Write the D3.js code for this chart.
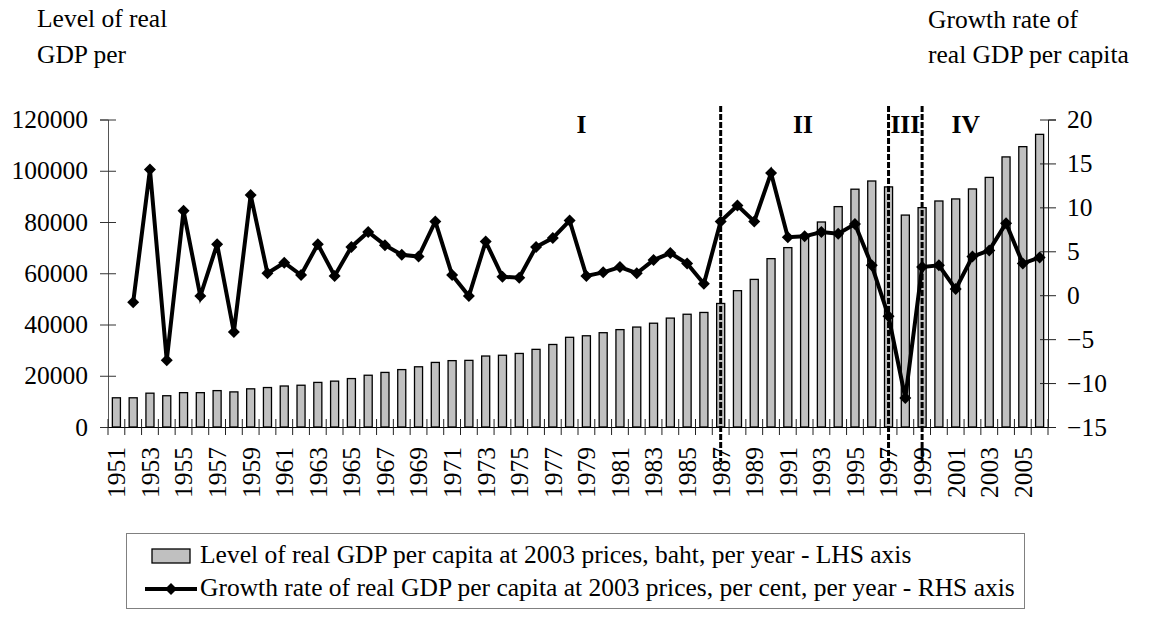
<!DOCTYPE html>
<html>
<head>
<meta charset="utf-8">
<script src="https://cdn.jsdelivr.net/npm/d3@7"></script>
<style>
  body { margin: 0; background: #fff; }
  svg text { font-family: "Liberation Serif", "Times New Roman", serif; font-size: 25.5px; fill: #000; }
</style>
</head>
<body>
<script>
var w = 1149, h = 619;

var years = [1951, 1952, 1953, 1954, 1955, 1956, 1957, 1958, 1959, 1960,
    1961, 1962, 1963, 1964, 1965, 1966, 1967, 1968, 1969, 1970,
    1971, 1972, 1973, 1974, 1975, 1976, 1977, 1978, 1979, 1980,
    1981, 1982, 1983, 1984, 1985, 1986, 1987, 1988, 1989, 1990,
    1991, 1992, 1993, 1994, 1995, 1996, 1997, 1998, 1999, 2000,
    2001, 2002, 2003, 2004, 2005, 2006];

// real GDP per capita, baht at 2003 prices (LHS)
var gdpLevel = [11400, 11400, 13200, 12200, 13400, 13400, 14200, 13700, 14900, 15400,
    16000, 16300, 17400, 17900, 18900, 20200, 21300, 22400, 23500, 25200,
    25900, 26000, 27700, 28000, 28700, 30300, 32200, 35000, 35600, 36800,
    38000, 39000, 40500, 42500, 44000, 44700, 48200, 53200, 57600, 65700,
    70000, 74800, 80000, 86000, 92800, 96000, 93700, 82700, 85600, 88200,
    89000, 92900, 97400, 105400, 109400, 114200];

// growth rate, per cent (RHS)
var growth = [null, -0.8, 14.3, -7.4, 9.6, -0.1, 5.8, -4.2, 11.4, 2.5,
    3.7, 2.3, 5.8, 2.2, 5.5, 7.2, 5.7, 4.6, 4.4, 8.4,
    2.3, -0.1, 6.1, 2.1, 2.0, 5.5, 6.5, 8.5, 2.2, 2.6,
    3.2, 2.5, 4.0, 4.8, 3.6, 1.3, 8.4, 10.2, 8.4, 13.9,
    6.6, 6.7, 7.2, 7.0, 8.1, 3.4, -2.4, -11.7, 3.2, 3.4,
    0.7, 4.4, 5.1, 8.2, 3.6, 4.3];

var leftTicks = [0, 20000, 40000, 60000, 80000, 100000, 120000];
var rightTicks = [-15, -10, -5, 0, 5, 10, 15, 20];
var yearLabels = years.filter(function (d) { return d % 2 === 1; });

var breakYears = [1987, 1997, 1999];
var periodLabels = ["I", "II", "III", "IV"];
var periodAt = [1978.7, 1991.9, 1998, 2001.6];

var legendNames = ["Level of real GDP per capita at 2003 prices, baht, per year - LHS axis",
    "Growth rate of real GDP per capita at 2003 prices, per cent, per year - RHS axis"];

var svg = d3.select('body').append('svg')
    .attr('width', w)
    .attr('height', h);

var x = d3.scaleBand().domain(years).range([108, 1048]);
var yL = d3.scaleLinear().domain([0, 120000]).range([427, 119.5]);
var yR = d3.scaleLinear().domain([-15, 20]).range([427, 119.5]);
var bw = x.bandwidth();
function cx(d) { return x(d) + bw / 2; }
function yearPos(v) { return x(years[0]) + (v - years[0]) * bw + bw / 2; }

// axis titles
svg.append('text').attr('x', 37).attr('y', 27).text('Level of real');
svg.append('text').attr('x', 37).attr('y', 63).text('GDP per');
svg.append('text').attr('x', 928).attr('y', 28).text('Growth rate of');
svg.append('text').attr('x', 928).attr('y', 63).text('real GDP per capita');

// bars
svg.selectAll('.bar')
    .data(years)
    .enter()
    .append('rect')
    .attr('class', 'bar')
    .attr('x', function (d) { return cx(d) - bw * 0.24; })
    .attr('width', bw * 0.48)
    .attr('y', function (d, i) { return yL(gdpLevel[i]); })
    .attr('height', function (d, i) { return yL(0) - yL(gdpLevel[i]); })
    .attr('fill', '#c0c0c0')
    .attr('stroke', '#000')
    .attr('stroke-width', 1.3);

// left axis
var gl = svg.append('g')
    .attr('transform', 'translate(108,0)')
    .call(d3.axisLeft(yL).tickValues(leftTicks).tickSize(8).tickPadding(12).tickFormat(d3.format('d')));
gl.select('.domain').attr('stroke', '#555');
gl.selectAll('.tick line').attr('x1', 8).attr('x2', -8).attr('stroke', '#333');
gl.selectAll('text').style('font-size', '25.5px').style('font-family', '"Liberation Serif", serif');

// right axis
var gr = svg.append('g')
    .attr('transform', 'translate(1048,0)')
    .call(d3.axisRight(yR).tickValues(rightTicks).tickSize(8).tickPadding(11));
gr.select('.domain').attr('stroke', '#222');
gr.selectAll('.tick line').attr('x1', -8).attr('x2', 8).attr('stroke', '#222');
gr.selectAll('text').style('font-size', '25.5px').style('font-family', '"Liberation Serif", serif');

// bottom axis, labels every other year
var gb = svg.append('g')
    .attr('transform', 'translate(0,427)')
    .call(d3.axisBottom(x).tickValues(yearLabels).tickSize(0));
gb.select('.domain').attr('stroke', '#000');
gb.selectAll('text')
    .attr('transform', 'rotate(-90)')
    .attr('x', -20)
    .attr('y', 0)
    .attr('dy', '0.35em')
    .style('text-anchor', 'end')
    .style('font-size', '25.5px')
    .style('font-family', '"Liberation Serif", serif');

// category boundary ticks
svg.selectAll('.xtick')
    .data(years.concat([null]))
    .enter()
    .append('line')
    .attr('x1', function (d) { return d === null ? 1048 : x(d); })
    .attr('x2', function (d) { return d === null ? 1048 : x(d); })
    .attr('y1', 419)
    .attr('y2', 435)
    .attr('stroke', '#222')
    .attr('stroke-width', 1);

// period breaks
svg.selectAll('.brk')
    .data(breakYears)
    .enter()
    .append('line')
    .attr('x1', cx).attr('x2', cx)
    .attr('y1', 106).attr('y2', 462)
    .attr('stroke', '#000')
    .attr('stroke-width', 3)
    .attr('stroke-dasharray', '6,2');

svg.selectAll('.period')
    .data(periodLabels)
    .enter()
    .append('text')
    .attr('x', function (d, i) { return yearPos(periodAt[i]); })
    .attr('y', 133)
    .style('text-anchor', 'middle')
    .style('font-weight', 'bold')
    .text(function (d) { return d; });

// growth line
var pts = years.map(function (d, i) { return {year: d, v: growth[i]}; })
    .filter(function (d) { return d.v !== null; });

var line = d3.line()
    .x(function (d) { return cx(d.year); })
    .y(function (d) { return yR(d.v); });

svg.append('path')
    .datum(pts)
    .attr('d', line)
    .attr('fill', 'none')
    .attr('stroke', '#000')
    .attr('stroke-width', 4)
    .attr('stroke-linejoin', 'miter');

var diamond = 'M0,-6L6,0L0,6L-6,0Z';
svg.selectAll('.mk')
    .data(pts)
    .enter()
    .append('path')
    .attr('d', diamond)
    .attr('transform', function (d) { return 'translate(' + cx(d.year) + ',' + yR(d.v) + ')'; })
    .attr('fill', '#000');

// legend
var lg = svg.append('g');
lg.append('rect')
    .attr('x', 126.5).attr('y', 533.5)
    .attr('width', 898).attr('height', 75)
    .attr('fill', 'none')
    .attr('stroke', '#808080');
lg.append('rect')
    .attr('x', 152).attr('y', 549)
    .attr('width', 38).attr('height', 14)
    .attr('fill', '#c0c0c0')
    .attr('stroke', '#000')
    .attr('stroke-width', 1.3);
lg.append('line')
    .attr('x1', 145).attr('x2', 197)
    .attr('y1', 589).attr('y2', 589)
    .attr('stroke', '#000').attr('stroke-width', 4);
lg.append('path')
    .attr('d', diamond)
    .attr('transform', 'translate(171,589)')
    .attr('fill', '#000');
lg.selectAll('.lt')
    .data(legendNames)
    .enter()
    .append('text')
    .attr('x', 200)
    .attr('y', function (d, i) { return 563 + i * 33; })
    .text(function (d) { return d; });
</script>
</body>
</html>
